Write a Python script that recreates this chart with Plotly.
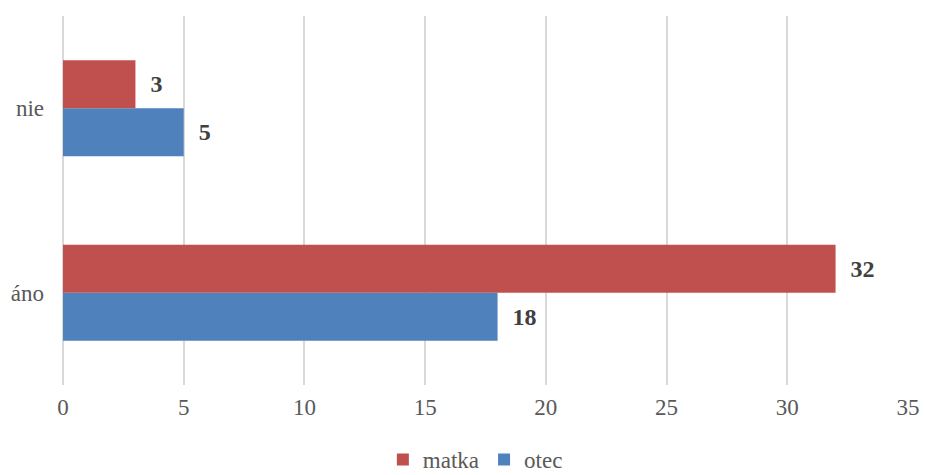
import plotly.graph_objects as go

categories = ["áno", "nie"]
matka = [32, 3]
otec = [18, 5]

FONT = "Liberation Serif"
LBL = "\u00a0\u00a0<b>%{x}</b>"

fig = go.Figure()
fig.add_trace(go.Bar(
    y=categories, x=otec, name="otec", orientation="h",
    marker=dict(color="#4F81BD", line=dict(width=0)),
    texttemplate=LBL, textposition="outside",
    textfont=dict(family=FONT, size=24, color="#404040"),
    cliponaxis=False,
))
fig.add_trace(go.Bar(
    y=categories, x=matka, name="matka", orientation="h",
    marker=dict(color="#C0504D", line=dict(width=0)),
    texttemplate=LBL, textposition="outside",
    textfont=dict(family=FONT, size=24, color="#404040"),
    cliponaxis=False,
))

fig.update_layout(
    width=925, height=475,
    margin=dict(l=63, r=17, t=16, b=90, autoexpand=False),
    barmode="group", bargap=0.48, bargroupgap=0,
    plot_bgcolor="white", paper_bgcolor="white",
    font=dict(family=FONT, size=23, color="#595959"),
    xaxis=dict(range=[0, 35], dtick=5, showgrid=True, gridcolor="#D9D9D9",
               gridwidth=1.5, zeroline=True, zerolinecolor="#D9D9D9",
               zerolinewidth=1.5, showline=False, ticks="", ticklen=0,
               automargin=False, ticklabelstandoff=6,
               tickfont=dict(family=FONT, size=23, color="#595959")),
    yaxis=dict(showgrid=False, zeroline=False, showline=False, ticks="",
               automargin=False, ticklabelstandoff=18,
               tickfont=dict(family=FONT, size=23, color="#595959")),
    legend=dict(orientation="h", x=0.488, xanchor="center",
                y=-0.26, yanchor="bottom",
                traceorder="reversed",
                font=dict(family=FONT, size=23, color="#595959"),
                itemwidth=30),
    showlegend=True,
)

fig.write_html(
    "out.html",
    config={"displayModeBar": False},
    post_script="document.body.style.margin='0';document.body.style.overflow='hidden';",
)
